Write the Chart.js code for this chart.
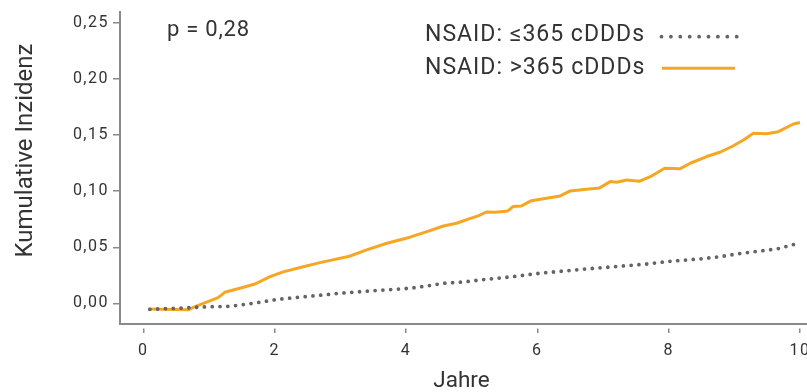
<!DOCTYPE html>
<html><head><meta charset="utf-8">
<script src="https://cdn.jsdelivr.net/npm/chart.js@4"></script>
<style>
html,body{margin:0;padding:0;overflow:hidden;background:#fff;width:807px;height:392px}
#wrap{width:840px;height:392px}
</style></head>
<body><div id="wrap"><canvas id="c" width="840" height="392" style="width:840px;height:392px"></canvas></div>
<script>
// ---- data ----
const seriesLabels = ['NSAID: \u2264365 cDDDs', 'NSAID: >365 cDDDs'];
const yearsLow = [0.1, 0.69, 0.88, 1.32, 1.68, 1.93, 2.06, 2.49, 3.0, 3.6, 4.06, 4.32, 4.57, 4.87, 5.13, 5.63, 6.04, 6.70, 7.31, 7.67, 7.97, 8.48, 8.78, 9.04, 9.29, 9.44, 9.65, 9.75, 10.0];
const valuesLow = [-0.0054, -0.004, -0.0033, -0.0027, 0.0, 0.0024, 0.0036, 0.006, 0.009, 0.0116, 0.0134, 0.0154, 0.0179, 0.019, 0.0208, 0.0238, 0.0268, 0.0304, 0.0333, 0.0351, 0.0372, 0.0396, 0.0416, 0.044, 0.046, 0.047, 0.0485, 0.050, 0.054];
const yearsHigh = [0.08, 0.69, 0.76, 1.14, 1.24, 1.47, 1.70, 1.93, 2.13, 2.39, 2.69, 3.14, 3.40, 3.71, 4.06, 4.32, 4.57, 4.77, 4.97, 5.10, 5.23, 5.36, 5.55, 5.63, 5.76, 5.91, 6.14, 6.35, 6.50, 6.75, 6.95, 7.11, 7.21, 7.36, 7.56, 7.72, 7.94, 8.17, 8.33, 8.58, 8.78, 8.98, 9.14, 9.29, 9.49, 9.67, 9.90, 10.0];
const valuesHigh = [-0.005, -0.0057, -0.0036, 0.005, 0.0098, 0.0134, 0.0172, 0.0238, 0.028, 0.032, 0.0363, 0.042, 0.0476, 0.0536, 0.059, 0.064, 0.069, 0.0714, 0.0755, 0.078, 0.0815, 0.0812, 0.0824, 0.0863, 0.0869, 0.0916, 0.0937, 0.0958, 0.1003, 0.1018, 0.103, 0.1086, 0.108, 0.110, 0.109, 0.113, 0.1205, 0.120, 0.125, 0.131, 0.1348, 0.1404, 0.1458, 0.1518, 0.1514, 0.1532, 0.160, 0.1613];
const yTickValues = [0, 0.05, 0.10, 0.15, 0.20, 0.25];
const xTickValues = [0, 2, 4, 6, 8, 10];
const pValueText = 'p = 0,28';
const xTitle = 'Jahre';
const yTitle = 'Kumulative Inzidenz';

// ---- styles ----
const GRAY = '#636368';
const ORANGE = '#f6a623';
const AXIS = '#8a8a8a';
const TEXT = '#333333';
const FONT = 'Roboto';

const toPoints = (xs, ys) => xs.map((x, i) => ({x: x, y: ys[i]}));

const overlay = {
  id: 'overlay',
  beforeUpdate(chart) { chart.ctx.letterSpacing = '1.5px'; },
  beforeDraw(chart) { chart.ctx.letterSpacing = '1.5px'; },
  afterDraw(chart) {
    const ctx = chart.ctx;
    // y axis title
    ctx.save();
    ctx.letterSpacing = '0px';
    ctx.fillStyle = TEXT;
    ctx.font = '24px ' + FONT;
    ctx.textAlign = 'center';
    ctx.textBaseline = 'alphabetic';
    ctx.translate(31.5, 150.5);
    ctx.rotate(-Math.PI / 2);
    ctx.fillText(yTitle, 0, 0);
    ctx.restore();
    // x axis title
    ctx.save();
    ctx.letterSpacing = '0px';
    ctx.fillStyle = TEXT;
    ctx.font = '22.5px ' + FONT;
    ctx.textAlign = 'center';
    ctx.textBaseline = 'alphabetic';
    ctx.fillText(xTitle, 461.5, 387);
    ctx.restore();
    // p value
    ctx.save();
    ctx.letterSpacing = '0.75px';
    ctx.fillStyle = TEXT;
    ctx.font = '22px ' + FONT;
    ctx.textAlign = 'left';
    ctx.textBaseline = 'alphabetic';
    ctx.fillText(pValueText, 167, 36);
    ctx.restore();
    // legend
    ctx.save();
    ctx.letterSpacing = '1px';
    ctx.fillStyle = TEXT;
    ctx.font = '23px ' + FONT;
    ctx.textAlign = 'left';
    ctx.textBaseline = 'alphabetic';
    ctx.fillText(seriesLabels[0], 425, 40.7);
    ctx.fillText(seriesLabels[1], 425, 74);
    ctx.restore();
    ctx.save();
    ctx.strokeStyle = GRAY;
    ctx.lineWidth = 3.8;
    ctx.lineCap = 'round';
    ctx.setLineDash([0, 9.4]);
    ctx.beginPath();
    ctx.moveTo(661.5, 36.7);
    ctx.lineTo(737, 36.7);
    ctx.stroke();
    ctx.restore();
    ctx.save();
    ctx.strokeStyle = ORANGE;
    ctx.lineWidth = 3;
    ctx.lineCap = 'butt';
    ctx.beginPath();
    ctx.moveTo(662, 68.3);
    ctx.lineTo(735, 68.3);
    ctx.stroke();
    ctx.restore();
  }
};

new Chart(document.getElementById('c'), {
  type: 'line',
  data: {
    datasets: [
      {
        label: seriesLabels[0],
        data: toPoints(yearsLow, valuesLow),
        borderColor: GRAY,
        borderWidth: 3.8,
        borderDash: [0, 7.8],
        borderCapStyle: 'round',
        pointRadius: 0,
        tension: 0,
        fill: false
      },
      {
        label: seriesLabels[1],
        data: toPoints(yearsHigh, valuesHigh),
        borderColor: ORANGE,
        borderWidth: 3,
        borderJoinStyle: 'round',
        pointRadius: 0,
        tension: 0,
        fill: false
      }
    ]
  },
  options: {
    responsive: false,
    devicePixelRatio: 1,
    animation: false,
    layout: {padding: {left: 0, top: 12, right: 33, bottom: 0}},
    plugins: {legend: {display: false}, tooltip: {enabled: false}},
    scales: {
      x: {
        type: 'linear',
        min: -0.355,
        max: 10.107,
        afterBuildTicks: s => { s.ticks = xTickValues.map(v => ({value: v})); },
        afterFit: s => { s.height = 68; s.paddingLeft = 0; s.paddingRight = 0; },
        ticks: {
          color: TEXT,
          font: {family: FONT, size: 16},
          padding: 8,
          maxRotation: 0,
          autoSkip: false,
          callback: v => String(v)
        },
        grid: {
          drawOnChartArea: false,
          drawTicks: true,
          tickLength: 9,
          color: AXIS,
          lineWidth: 1.5,
          tickBorderDash: [0, 3.5, 5.5, 50]
        },
        border: {display: true, color: AXIS, width: 2},
        title: {display: false}
      },
      y: {
        type: 'linear',
        min: -0.0185,
        max: 0.26,
        afterBuildTicks: s => { s.ticks = yTickValues.map(v => ({value: v})); },
        afterFit: s => { s.width = 120; s.paddingTop = 0; s.paddingBottom = 0; },
        ticks: {
          color: TEXT,
          font: {family: FONT, size: 16},
          padding: 4,
          autoSkip: false,
          callback: v => Number(v).toFixed(2).replace('.', ',')
        },
        grid: {
          drawOnChartArea: false,
          drawTicks: true,
          tickLength: 7,
          color: AXIS,
          lineWidth: 1.5
        },
        border: {display: true, color: AXIS, width: 2},
        title: {display: false}
      }
    }
  },
  plugins: [overlay]
});
</script>
</body></html>
